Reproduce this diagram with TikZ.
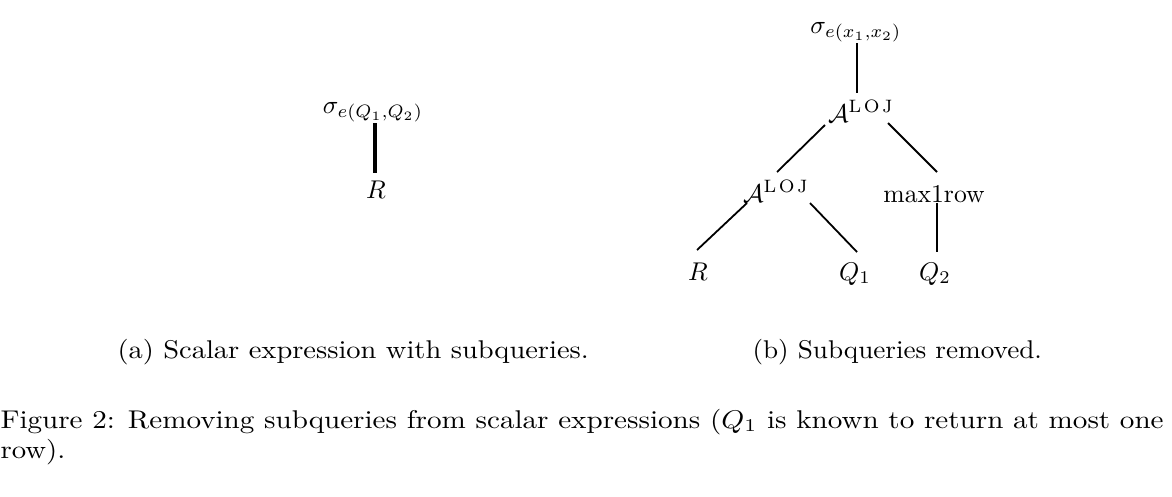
\documentclass[tikz,border=0pt]{standalone}
\usepackage{amsmath}
\newcommand{\lojsup}{\mbox{\scriptsize L\kern1pt O\kern1pt J}}
\begin{document}
\begin{tikzpicture}[x=0.39pt,y=-0.39pt,
  lbl/.style={inner sep=0pt,anchor=base},
  captxt/.style={inner sep=0pt,anchor=base west},
  conn/.style={line width=0.7pt},
  thickconn/.style={line width=1.3pt}]
\useasboundingbox (0,0) rectangle (1172,496);
% panel (a)
\node[lbl] (sa) at (373,113) {$\sigma_{e(Q_1,Q_2)}$};
\node[lbl] (ra) at (376,198) {$R$};
\coordinate (sa1) at (375,123);
\coordinate (ra1) at (375,173);
\draw[thickconn] (sa1) -- (ra1);
% panel (b)
\node[lbl] (sb) at (856,33) {$\sigma_{e(x_1,x_2)}$};
\node[lbl] (a1) at (861,122) {$\mathcal{A}^{\lojsup}$};
\node[lbl] (a2) at (776,202) {$\mathcal{A}^{\lojsup}$};
\node[lbl] (mx) at (934,202) {max1row};
\node[lbl] (rb) at (698,280) {$R$};
\node[lbl] (q1) at (855,280) {$Q_1$};
\node[lbl] (q2) at (935,280) {$Q_2$};
\coordinate (sbS) at (857,43);  \coordinate (a1N) at (857,93);
\coordinate (a1L) at (825,125); \coordinate (a2N) at (777,172);
\coordinate (a1R) at (888,123); \coordinate (mxN) at (937,172);
\coordinate (a2L) at (747,203); \coordinate (rbN) at (697,250);
\coordinate (a2R) at (810,203); \coordinate (q1N) at (857,252);
\coordinate (mxS) at (937,203); \coordinate (q2N) at (937,252);
\draw[conn] (sbS) -- (a1N);
\draw[conn] (a1L) -- (a2N);
\draw[conn] (a1R) -- (mxN);
\draw[conn] (a2L) -- (rbN);
\draw[conn] (a2R) -- (q1N);
\draw[conn] (mxS) -- (q2N);
% captions
\node[captxt] (ca) at (117,358) {\scalebox{1.11}[1]{(a) Scalar expression with subqueries.}};
\node[captxt] (cb) at (752,358) {\scalebox{1.06}[1]{(b) Subqueries removed.}};
\node[captxt] (f1) at (0,428) {\scalebox{1.135}[1]{Figure 2: Removing subqueries from scalar expressions ($Q_1$ is known to return at most one}};
\node[captxt] (f2) at (0,458) {\scalebox{1.12}[1]{row).}};
\end{tikzpicture}
\end{document}
